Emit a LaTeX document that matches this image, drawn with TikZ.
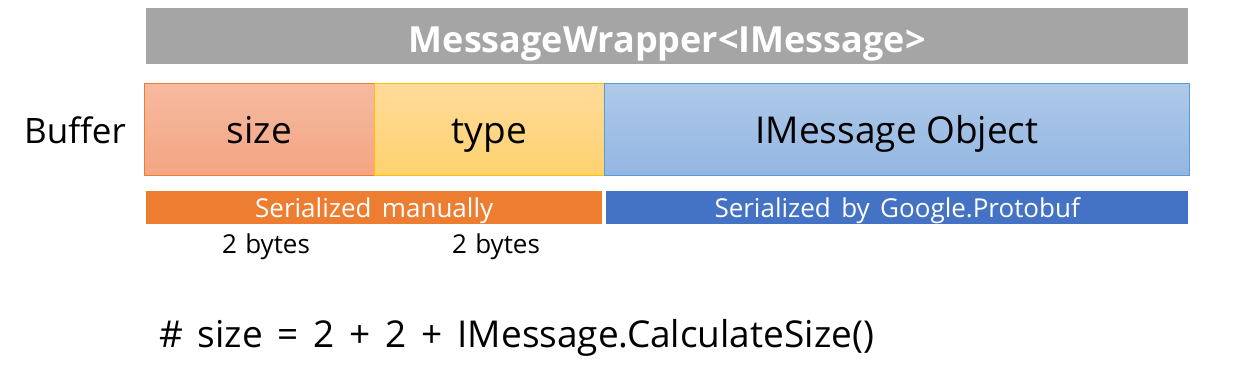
\documentclass[tikz,border=0pt]{standalone}
\usepackage{fontspec}
\setmainfont{Open Sans}
\definecolor{grayb}{HTML}{A5A5A5}
\definecolor{orb}{HTML}{ED7D31}
\definecolor{blb}{HTML}{4472C4}
\definecolor{sizeT}{HTML}{F6BAA0}
\definecolor{sizeB}{HTML}{F4A583}
\definecolor{typeT}{HTML}{FFDB9A}
\definecolor{typeB}{HTML}{FED26F}
\definecolor{typeD}{HTML}{FFC000}
\definecolor{objT}{HTML}{AFC9E9}
\definecolor{objB}{HTML}{93B6E2}
\definecolor{objD}{HTML}{5B9BD5}
\newcommand{\wsp}{\hspace{0.4em}}
\tikzset{
  field/.style={inner sep=0pt, line width=1pt, minimum height=92pt, anchor=north west},
  bar/.style={inner sep=0pt, anchor=north west},
  lbl/.style={inner sep=0pt, anchor=base},
  big/.style={font=\fontsize{37}{42}\selectfont},
  small/.style={font=\fontsize{26}{30}\selectfont},
}
\begin{document}
\begin{tikzpicture}[x=1pt,y=-1pt]
\useasboundingbox (0,0) rectangle (1243,378);
% wrapper
\node[bar, fill=grayb, minimum width=1042pt, minimum height=56pt] (wrap) at (146,8) {};
\node[lbl, text=white, font=\fontsize{36}{40}\selectfont\bfseries] (wrapt) at (wrap.center |- 0,52) {MessageWrapper<IMessage>};
% fields
\node[field, draw=orb, top color=sizeT, bottom color=sizeB, minimum width=230pt] (size) at (144,83) {};
\node[field, draw=typeD, top color=typeT, bottom color=typeB, minimum width=230pt] (type) at (374,83) {};
\node[field, draw=objD, top color=objT, bottom color=objB, minimum width=585pt] (obj) at (604,83) {};
\node[lbl, big] (sizet) at (size.center |- 0,143) {size};
\node[lbl, big] (typet) at (type.center |- 0,143) {type};
\node[lbl, big] (objt) at (obj.center |- 0,143) {IMessage Object};
\node[lbl, font=\fontsize{35}{40}\selectfont] (buf) at (75,143) {Buffer};
% serialization bars
\node[bar, fill=orb, minimum width=456pt, minimum height=33pt] (man) at (146,191) {};
\node[bar, fill=blb, minimum width=582pt, minimum height=33pt] (pb) at (606,191) {};
\node[lbl, small, text=white] (mant) at (man.center |- 0,217) {Serialized\wsp manually};
\node[lbl, small, text=white] (pbt) at (pb.center |- 0,217) {Serialized\wsp by\wsp Google.Protobuf};
% byte labels
\node[lbl, small] (b1) at (266,253) {2\hspace{0.32em}bytes};
\node[lbl, small] (b2) at (496,253) {2\hspace{0.32em}bytes};
% formula
\node[inner sep=0pt, anchor=base west, font=\fontsize{37}{42}\selectfont] (f) at (159,347)
  {\#\wsp size\wsp =\wsp 2\wsp +\wsp 2\wsp +\wsp IMessage.CalculateSize()};
\end{tikzpicture}
\end{document}
